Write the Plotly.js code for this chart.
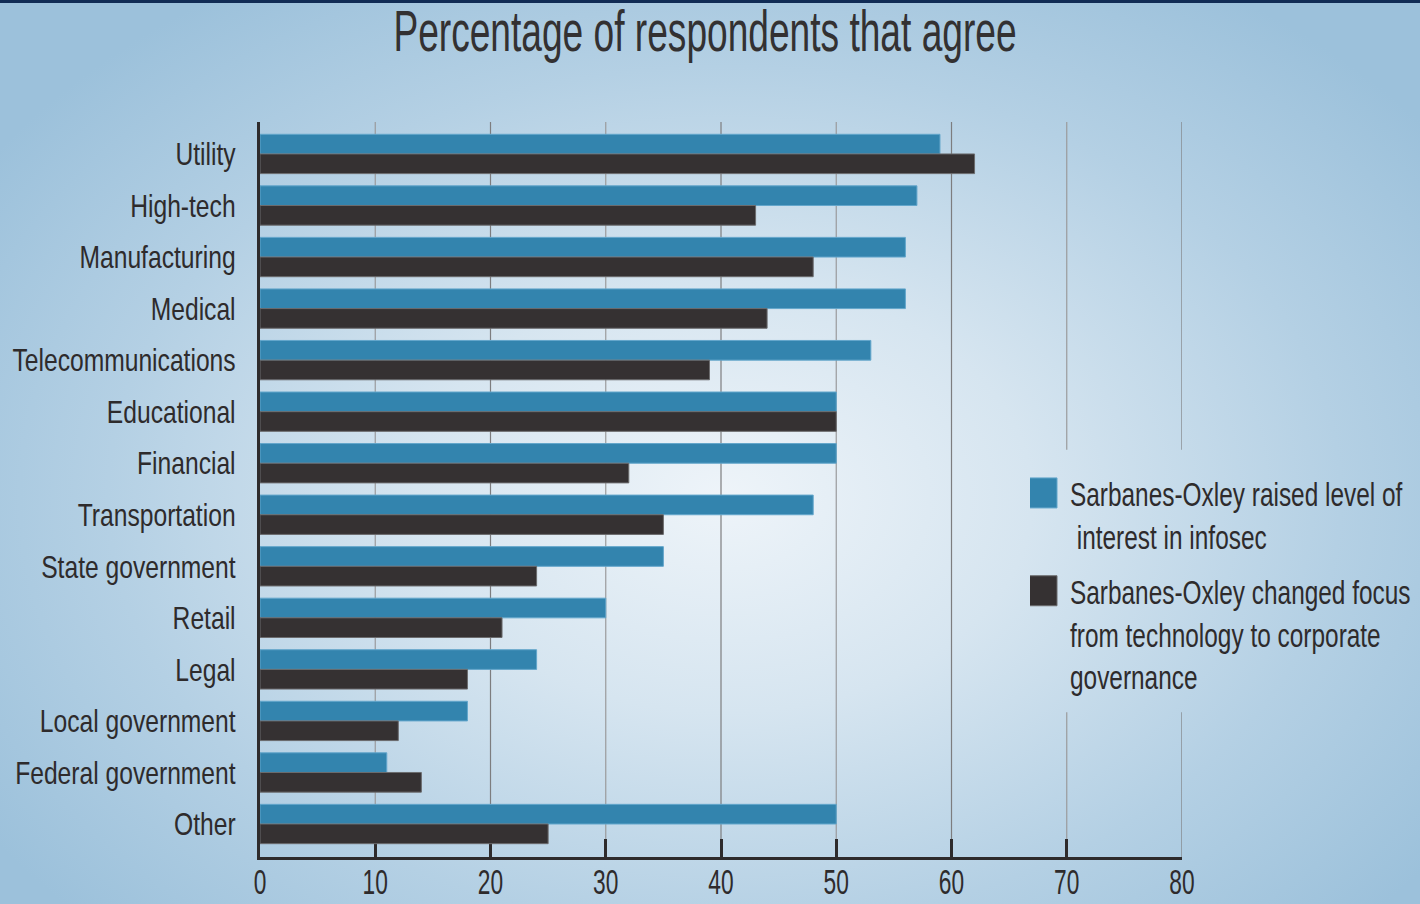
<!DOCTYPE html>
<html>
<head>
<meta charset="utf-8">
<script src="https://cdn.plot.ly/plotly-3.0.1.min.js"></script>
<style>
  html, body { margin: 0; padding: 0; }
  #wrap {
    width: 1420px; height: 904px; position: relative; overflow: hidden;
    background: radial-gradient(ellipse 62% 68% at 51% 55%, #eef4f9 0%, #d6e5f0 35%, #b4d0e4 70%, #9cc1db 100%);
  }
  #topline { position: absolute; left: 0; top: 0; width: 1420px; height: 3px; background: #112c55; }
  #chart { width: 1420px; height: 904px; position: absolute; top: 0; left: 0; }
</style>
</head>
<body>
<div id="wrap"><div id="chart"></div><div id="topline"></div></div>
<script>
const categories = ["Utility", "High-tech", "Manufacturing", "Medical", "Telecommunications",
  "Educational", "Financial", "Transportation", "State government", "Retail", "Legal",
  "Local government", "Federal government", "Other"];
const raisedInterest = [59, 57, 56, 56, 53, 50, 50, 48, 35, 30, 24, 18, 11, 50];
const changedFocus   = [62, 43, 48, 44, 39, 50, 32, 35, 24, 21, 18, 12, 14, 25];
const seriesNames = ["Sarbanes-Oxley raised level of<br>\u00a0interest in infosec",
  "Sarbanes-Oxley changed focus<br>from technology to corporate<br>governance"];
const xTicks = [0, 10, 20, 30, 40, 50, 60, 70, 80];

const FONT = "'Liberation Sans', Arial, sans-serif";
const INK = "#2e2b2c";

const traces = [
  { type: "bar", orientation: "h", y: categories, x: raisedInterest, name: seriesNames[0], legendgroup: "a",
    marker: { color: "#3384ae", line: { color: "#63a6cb", width: 1 } }, hoverinfo: "x+y" },
  { type: "bar", orientation: "h", y: categories, x: changedFocus, name: seriesNames[1], legendgroup: "b",
    marker: { color: "#353132", line: { color: "#6b6b6d", width: 1 } }, hoverinfo: "x+y" }
];

// grid lines (interrupted at 70 and 80 behind the legend)
const shapes = [];
xTicks.slice(1).forEach(v => {
  const cut = v >= 70;
  const segs = cut ? [[0.554, 1], [0, 0.197]] : [[0, 1]];
  segs.forEach(s => shapes.push({ type: "line", xref: "x", yref: "paper", x0: v, x1: v, y0: s[0], y1: s[1],
    line: { color: v % 20 === 0 ? "#7d7d7f" : "#9a9a9c", width: 1.2 }, layer: "below" }));
});

const layout = {
  width: 1420, height: 904,
  margin: { l: 260, r: 238, t: 122, b: 47, autoexpand: false },
  paper_bgcolor: "rgba(0,0,0,0)", plot_bgcolor: "rgba(0,0,0,0)",
  font: { family: FONT, color: INK },
  title: { text: "Percentage of respondents that agree", font: { family: FONT, size: 58, color: "#333132" },
    x: 705 / 1420, xanchor: "center", y: 1 - 31 / 904, yanchor: "middle" },
  barmode: "group", bargap: 0.237, bargroupgap: 0,
  xaxis: { range: [0, 80], tickvals: xTicks, ticktext: xTicks.map(String), showgrid: false, zeroline: false,
    showline: true, linecolor: "#2e2b2c", linewidth: 3, ticks: "inside", ticklen: 18, tickwidth: 3,
    tickcolor: "#2e2b2c", tickfont: { size: 35, family: FONT, color: INK }, layer: "below traces",
    ticklabelstandoff: -8, fixedrange: true },
  yaxis: { type: "category", range: [13.64, -0.62], showgrid: false, zeroline: false, showline: true,
    linecolor: "#2e2b2c", linewidth: 3, ticks: "", tickfont: { size: 32, family: FONT, color: INK },
    ticklabelstandoff: 15, layer: "below traces", fixedrange: true },
  legend: { x: (1030 - 260) / 922, xanchor: "left", y: (857 - 465) / 735, yanchor: "top", bgcolor: "rgba(0,0,0,0)",
    font: { size: 33, family: FONT, color: INK }, valign: "top", traceorder: "grouped", tracegroupgap: 9 },
  shapes: shapes,
  showlegend: true
};

// horizontally condense a set of texts around their own anchor (the reference uses a condensed face)
function condense(selector, sx) {
  document.querySelectorAll(selector).forEach(t => {
    const x = parseFloat(t.getAttribute("x")) || 0;
    const prev = t.getAttribute("transform") || "";
    t.setAttribute("transform", prev + " translate(" + x + ",0) scale(" + sx + ",1) translate(" + (-x) + ",0)");
  });
}

Plotly.newPlot("chart", traces, layout, { displayModeBar: false, staticPlot: true }).then(() => {
  document.querySelectorAll(".legend .legendpoints path").forEach(p => {
    p.setAttribute("d", "M7,15H-23V-15H7Z");
  });
  condense(".gtitle", 0.64);
  condense(".xtick text", 0.65);
  condense(".ytick text", 0.77);
  condense(".legendtext", 0.74);
});
</script>
</body>
</html>
